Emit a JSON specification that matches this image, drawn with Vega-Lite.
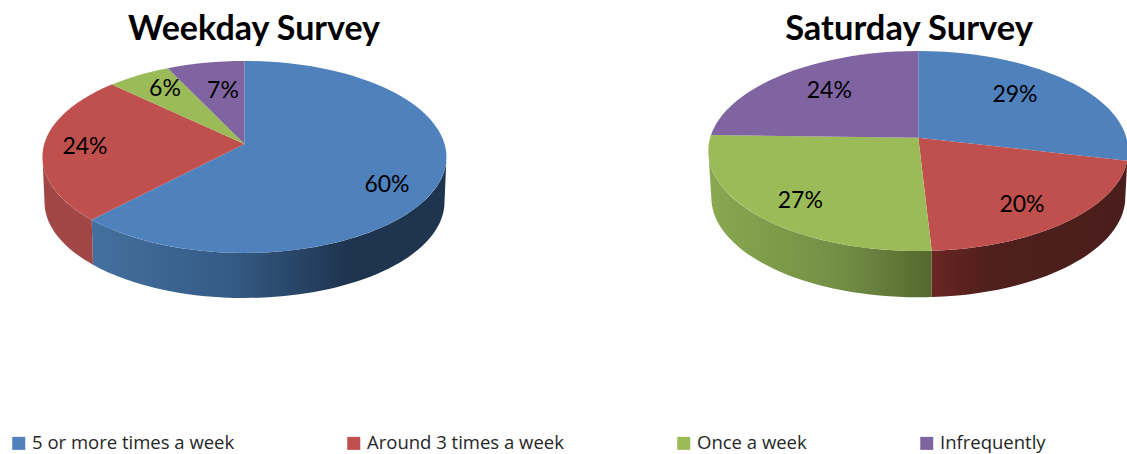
{
  "$schema": "https://vega.github.io/schema/vega-lite/v6.json",
  "autosize": {"type": "fit", "contains": "padding"},
  "width": 1127,
  "height": 454,
  "padding": 0,
  "background": "white",
  "view": {"stroke": null},
  "config": {"text": {"font": "Lato", "fontSize": 23, "color": "#000000"}},
  "data": {
    "values": [
      {"survey": "Weekday Survey", "category": "5 or more times a week", "slice": "Weekday 5+", "share": 0.60},
      {"survey": "Weekday Survey", "category": "Around 3 times a week", "slice": "Weekday 3", "share": 0.24},
      {"survey": "Weekday Survey", "category": "Once a week", "slice": "Weekday 1", "share": 0.06},
      {"survey": "Weekday Survey", "category": "Infrequently", "slice": "Weekday rare", "share": 0.07},
      {"survey": "Saturday Survey", "category": "5 or more times a week", "slice": "Saturday 5+", "share": 0.29},
      {"survey": "Saturday Survey", "category": "Around 3 times a week", "slice": "Saturday 3", "share": 0.20},
      {"survey": "Saturday Survey", "category": "Once a week", "slice": "Saturday 1", "share": 0.27},
      {"survey": "Saturday Survey", "category": "Infrequently", "slice": "Saturday rare", "share": 0.24}
    ]
  },
  "encoding": {
    "x": {"field": "survey", "type": "nominal", "axis": null, "scale": {"domain": ["Weekday Survey", "Saturday Survey"], "range": [244.5, 918.3], "padding": 0}},
    "y": {"field": "survey", "type": "nominal", "axis": null, "scale": {"domain": ["Weekday Survey", "Saturday Survey"], "range": [144, 137.7], "padding": 0}}
  },
  "layer": [
    {
      "transform": [{"filter": "datum.slice === 'Weekday 5+'"}],
      "mark": {"type": "point", "filled": true, "opacity": 1, "size": 40000, "strokeWidth": 0,
        "shape": "M-1.528 0.758A2.02 0.96 0 0 0 2.02 0.13L2 0.58A2 0.96 0 0 1 -1.515 1.207Z",
        "fill": {"gradient": "linear", "x1": 0, "y1": 0, "x2": 1, "y2": 0, "stops": [
          {"offset": 0, "color": "#44709f"}, {"offset": 0.4, "color": "#345a84"}, {"offset": 0.72, "color": "#1f344f"}, {"offset": 1, "color": "#1f344f"}]}}
    },
    {
      "transform": [{"filter": "datum.slice === 'Weekday 3'"}],
      "mark": {"type": "point", "filled": true, "opacity": 1, "size": 40000, "strokeWidth": 0,
        "shape": "M-1.528 0.758A2.02 0.96 0 0 1 -2.02 0.13L-2 0.58A2 0.96 0 0 0 -1.515 1.207Z",
        "fill": {"gradient": "linear", "x1": 0, "y1": 0, "x2": 1, "y2": 0, "stops": [
          {"offset": 0, "color": "#a04644"}, {"offset": 1, "color": "#a04644"}]}}
    },
    {
      "transform": [{"filter": "datum.slice === 'Saturday 3'"}],
      "mark": {"type": "point", "filled": true, "opacity": 1, "size": 40000, "strokeWidth": 0,
        "shape": "M2.09 0.231A2.1 1 0 0 1 0.134 1.131L0.134 1.594A2.07 1 0 0 0 2.07 0.596Z",
        "fill": {"gradient": "linear", "x1": 0, "y1": 0, "x2": 1, "y2": 0, "stops": [
          {"offset": 0, "color": "#6a2522"}, {"offset": 0.3, "color": "#4e1f1d"}, {"offset": 1, "color": "#4a1e1c"}]}}
    },
    {
      "transform": [{"filter": "datum.slice === 'Saturday 1'"}],
      "mark": {"type": "point", "filled": true, "opacity": 1, "size": 40000, "strokeWidth": 0,
        "shape": "M0.134 1.131A2.1 1 0 0 1 -2.1 0.133L-2.07 0.596A2.07 1 0 0 0 0.134 1.594Z",
        "fill": {"gradient": "linear", "x1": 0, "y1": 0, "x2": 1, "y2": 0, "stops": [
          {"offset": 0, "color": "#8aa850"}, {"offset": 0.6, "color": "#728e45"}, {"offset": 1, "color": "#54682f"}]}}
    },
    {
      "mark": {"type": "point", "filled": true, "opacity": 1, "size": 40000, "strokeWidth": 0},
      "encoding": {
        "shape": {
          "field": "slice", "type": "nominal", "legend": null,
          "scale": {
            "domain": ["Weekday 5+", "Weekday 3", "Weekday 1", "Weekday rare", "Saturday 5+", "Saturday 3", "Saturday 1", "Saturday rare"],
            "range": [
              "M0 0L0 -0.83A2.02 0.96 0 1 1 -1.528 0.758Z",
              "M0 0L-1.528 0.758A2.02 0.96 0 0 1 -1.328 -0.594Z",
              "M0 0L-1.328 -0.594A2.02 0.96 0 0 1 -0.768 -0.758Z",
              "M0 0L-0.768 -0.758A2.02 0.96 0 0 1 0 -0.83Z",
              "M0 0L0 -0.867A2.1 1 0 0 1 2.09 0.231Z",
              "M0 0L2.09 0.231A2.1 1 0 0 1 0.134 1.131Z",
              "M0 0L0.134 1.131A2.1 1 0 0 1 -2.073 -0.027Z",
              "M0 0L-2.073 -0.027A2.1 1 0 0 1 0 -0.867Z"
            ]
          }
        },
        "color": {
          "field": "category", "type": "nominal",
          "scale": {
            "domain": ["5 or more times a week", "Around 3 times a week", "Once a week", "Infrequently"],
            "range": ["#4f81bd", "#c0504d", "#9bbb59", "#8064a2"]
          },
          "legend": {
            "title": null, "orient": "none", "legendX": 9.5, "legendY": 434, "direction": "horizontal", "columns": 4,
            "columnPadding": 110, "symbolType": "square", "symbolSize": 169, "symbolStrokeWidth": 0, "symbolOpacity": 1,
            "labelFont": "Open Sans", "labelFontSize": 18.5, "labelColor": "#262626", "labelOffset": 4, "labelLimit": 300
          }
        }
      }
    },
    {"transform": [{"filter": "datum.slice === 'Weekday 5+'"}], "mark": {"type": "text", "dx": 142.5, "dy": 41}, "encoding": {"text": {"field": "share", "format": ".0%"}}},
    {"transform": [{"filter": "datum.slice === 'Weekday 3'"}], "mark": {"type": "text", "dx": -159.5, "dy": 3}, "encoding": {"text": {"field": "share", "format": ".0%"}}},
    {"transform": [{"filter": "datum.slice === 'Weekday 1'"}], "mark": {"type": "text", "dx": -79.5, "dy": -55}, "encoding": {"text": {"field": "share", "format": ".0%"}}},
    {"transform": [{"filter": "datum.slice === 'Weekday rare'"}], "mark": {"type": "text", "dx": -21.5, "dy": -53}, "encoding": {"text": {"field": "share", "format": ".0%"}}},
    {"transform": [{"filter": "datum.slice === 'Saturday 5+'"}], "mark": {"type": "text", "dx": 96.7, "dy": -42.7}, "encoding": {"text": {"field": "share", "format": ".0%"}}},
    {"transform": [{"filter": "datum.slice === 'Saturday 3'"}], "mark": {"type": "text", "dx": 103.7, "dy": 67.3}, "encoding": {"text": {"field": "share", "format": ".0%"}}},
    {"transform": [{"filter": "datum.slice === 'Saturday 1'"}], "mark": {"type": "text", "dx": -118, "dy": 63}, "encoding": {"text": {"field": "share", "format": ".0%"}}},
    {"transform": [{"filter": "datum.slice === 'Saturday rare'"}], "mark": {"type": "text", "dx": -89, "dy": -46.7}, "encoding": {"text": {"field": "share", "format": ".0%"}}},
    {
      "transform": [{"filter": "datum.slice === 'Weekday 5+'"}],
      "mark": {"type": "text", "fontSize": 34, "fontWeight": "bold", "dx": 9.5},
      "encoding": {"text": {"field": "survey"}, "y": {"value": 30}}
    },
    {
      "transform": [{"filter": "datum.slice === 'Saturday 5+'"}],
      "mark": {"type": "text", "fontSize": 34.5, "fontWeight": "bold", "dx": -9.3},
      "encoding": {"text": {"field": "survey"}, "y": {"value": 30}}
    }
  ]
}
